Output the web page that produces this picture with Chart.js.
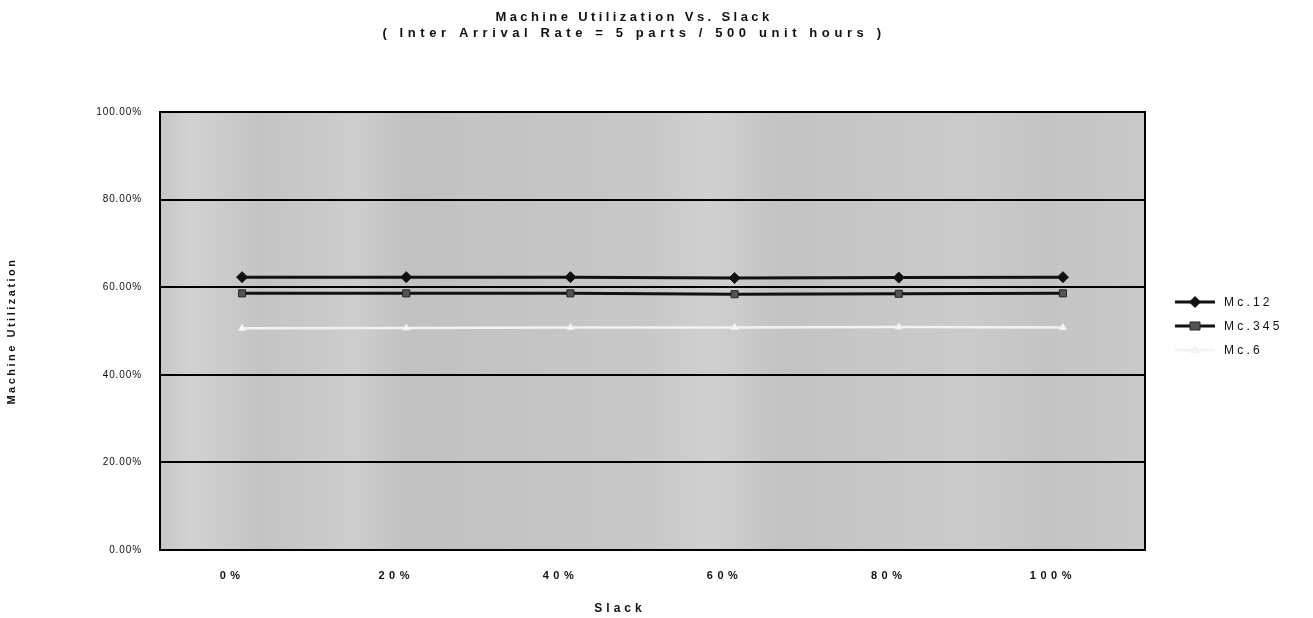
<!DOCTYPE html>
<html>
<head>
<meta charset="utf-8">
<style>
  html, body { margin: 0; padding: 0; background: #ffffff; }
  #wrap { width: 1313px; height: 618px; }
</style>
<script src="https://cdn.jsdelivr.net/npm/chart.js@4/dist/chart.umd.min.js"></script>
</head>
<body>
<div id="wrap"><canvas id="chart" width="1313" height="618"></canvas></div>
<script>
// Slack levels on the x axis
const slackLabels = ['0%', '20%', '40%', '60%', '80%', '100%'];

// Machine utilization (%) per machine group
const mc12 = [62.3, 62.3, 62.3, 62.1, 62.2, 62.3];
const mc345 = [58.6, 58.6, 58.6, 58.4, 58.5, 58.6];
const mc6 = [50.6, 50.7, 50.8, 50.8, 50.9, 50.8];

const seriesNames = ['Mc.12', 'Mc.345', 'Mc.6'];
const titleLines = [
  'Machine Utilization Vs. Slack',
  '( Inter Arrival Rate = 5 parts / 500 unit hours )'
];
const xTitle = 'Slack';
const yTitle = 'Machine Utilization';
const yTicks = [0, 20, 40, 60, 80, 100];

const FONT = "'Liberation Sans', Arial, sans-serif";

const series = [
  { label: seriesNames[0], data: mc12, line: '#111111', fill: '#111111', edge: '#111111', style: 'rectRot', r: 5.5, w: 3 },
  { label: seriesNames[1], data: mc345, line: '#111111', fill: '#555555', edge: '#222222', style: 'rect', r: 5, w: 3 },
  { label: seriesNames[2], data: mc6, line: '#f2f2f2', fill: '#f7f7f7', edge: '#eeeeee', style: 'triangle', r: 4, w: 2.5 }
];

// Per-axis letter spacing for tick labels and axis titles
const axisSpacing = { x: '4.5px', y: '0.9px' };
const titleSpacing = { y: '2.5px' };
const spacingPlugin = {
  id: 'spacing',
  afterLayout(chart) {
    Object.values(chart.scales).forEach(scale => {
      if (scale._spaced) return;
      scale._spaced = true;
      const drawLabels = scale.drawLabels;
      const drawTitle = scale.drawTitle;
      scale.drawLabels = function (area) {
        this.ctx.save();
        this.ctx.letterSpacing = axisSpacing[this.id] || '0px';
        drawLabels.call(this, area);
        this.ctx.restore();
      };
      scale.drawTitle = function (area) {
        this.ctx.save();
        this.ctx.letterSpacing = titleSpacing[this.id] || '0px';
        drawTitle.call(this, area);
        this.ctx.restore();
      };
    });
  }
};

// Grey plot background and the frame around it
const plotFrame = {
  id: 'plotFrame',
  beforeDraw(chart) {
    const { ctx, chartArea: a } = chart;
    ctx.save();
    const g = ctx.createLinearGradient(a.left, 0, a.right, 0);
    g.addColorStop(0.00, '#c6c6c6');
    g.addColorStop(0.03, '#d2d2d2');
    g.addColorStop(0.10, '#c4c4c4');
    g.addColorStop(0.20, '#cdcdcd');
    g.addColorStop(0.25, '#c1c1c1');
    g.addColorStop(0.50, '#c8c8c8');
    g.addColorStop(0.56, '#d0d0d0');
    g.addColorStop(0.63, '#c3c3c3');
    g.addColorStop(0.82, '#cbcbcb');
    g.addColorStop(0.90, '#c4c4c4');
    g.addColorStop(1.00, '#c9c9c9');
    ctx.fillStyle = g;
    ctx.fillRect(a.left, a.top, a.right - a.left, a.bottom - a.top);
    ctx.restore();
  },
  afterDatasetsDraw(chart) {
    const { ctx, chartArea: a } = chart;
    ctx.save();
    ctx.strokeStyle = '#000000';
    ctx.lineWidth = 2;
    ctx.strokeRect(a.left, a.top, a.right - a.left, a.bottom - a.top);
    ctx.restore();
  }
};

// Two-line heading, x axis title and the legend on the right
const annotations = {
  id: 'annotations',
  afterDraw(chart) {
    const ctx = chart.ctx;
    ctx.save();
    ctx.fillStyle = '#111111';
    ctx.textAlign = 'center';
    ctx.textBaseline = 'middle';
    ctx.font = 'bold 13px ' + FONT;
    ctx.letterSpacing = '3.4px';
    ctx.fillText(titleLines[0], 634, 17);
    ctx.letterSpacing = '4.6px';
    ctx.fillText(titleLines[1], 634, 33);

    ctx.font = 'bold 12px ' + FONT;
    ctx.letterSpacing = '4px';
    ctx.fillText(xTitle, 620, 609);

    const ys = [302, 326, 350];
    series.forEach((s, i) => {
      const y = ys[i];
      const cx = 1195;
      ctx.strokeStyle = s.line;
      ctx.lineWidth = s.w;
      ctx.beginPath();
      ctx.moveTo(1175, y);
      ctx.lineTo(1215, y);
      ctx.stroke();
      ctx.fillStyle = s.fill;
      ctx.strokeStyle = s.edge;
      ctx.lineWidth = 1;
      ctx.beginPath();
      if (s.style === 'rect') {
        ctx.rect(cx - s.r, y - s.r + 1, s.r * 2, s.r * 2 - 2);
      } else if (s.style === 'rectRot') {
        ctx.moveTo(cx, y - s.r); ctx.lineTo(cx + s.r, y);
        ctx.lineTo(cx, y + s.r); ctx.lineTo(cx - s.r, y); ctx.closePath();
      } else {
        ctx.moveTo(cx, y - s.r); ctx.lineTo(cx + s.r, y + s.r * 0.7);
        ctx.lineTo(cx - s.r, y + s.r * 0.7); ctx.closePath();
      }
      ctx.fill();
      ctx.stroke();
      ctx.fillStyle = '#111111';
      ctx.textAlign = 'left';
      ctx.font = '12px ' + FONT;
      ctx.letterSpacing = '3.2px';
      ctx.fillText(s.label, 1224, y + 1);
    });
    ctx.restore();
  }
};

const chart = new Chart(document.getElementById('chart'), {
  type: 'line',
  data: {
    labels: slackLabels,
    datasets: series.map(s => ({
      label: s.label,
      data: s.data,
      borderColor: s.line,
      borderWidth: s.w,
      backgroundColor: s.fill,
      pointStyle: s.style,
      pointRadius: s.r,
      pointBackgroundColor: s.fill,
      pointBorderColor: s.edge,
      pointBorderWidth: 1,
      tension: 0,
      fill: false
    }))
  },
  options: {
    responsive: false,
    animation: false,
    devicePixelRatio: 1,
    layout: { padding: { top: 112, right: 168, bottom: 0, left: 0 } },
    plugins: {
      legend: { display: false },
      title: { display: false },
      tooltip: { enabled: false }
    },
    scales: {
      x: {
        type: 'category',
        offset: true,
        grid: { display: false, drawTicks: false },
        border: { display: true, color: '#000000', width: 2 },
        ticks: {
          color: '#111111',
          padding: 19,
          labelOffset: -10,
          font: { family: FONT, size: 11, weight: 'bold' },
          maxRotation: 0,
          autoSkip: false
        },
        title: { display: false },
        afterFit(scale) { scale.height = 68; }
      },
      y: {
        min: 0,
        max: 100,
        afterBuildTicks(scale) { scale.ticks = yTicks.map(v => ({ value: v })); },
        grid: { color: '#000000', lineWidth: 2, drawTicks: false },
        border: { display: true, color: '#000000', width: 2 },
        ticks: {
          color: '#111111',
          padding: 18,
          font: { family: FONT, size: 10 },
          callback: v => Number(v).toFixed(2) + '%'
        },
        title: {
          display: true,
          text: yTitle,
          color: '#111111',
          font: { family: FONT, size: 11, weight: 'bold' },
          padding: { top: 5, bottom: 0 }
        },
        afterFit(scale) { scale.width = 160; }
      }
    }
  },
  plugins: [spacingPlugin, plotFrame, annotations]
});
</script>
</body>
</html>
